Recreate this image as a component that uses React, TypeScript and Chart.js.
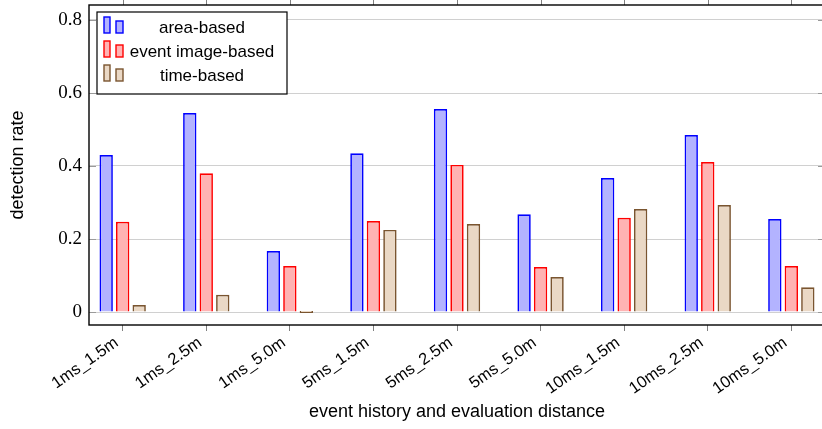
import React, { useEffect, useRef } from "react";
import { Chart, registerables } from "chart.js";

Chart.register(...registerables);

const CATEGORIES = [
  "1ms_1.5m",
  "1ms_2.5m",
  "1ms_5.0m",
  "5ms_1.5m",
  "5ms_2.5m",
  "5ms_5.0m",
  "10ms_1.5m",
  "10ms_2.5m",
  "10ms_5.0m",
];
const SERIES_LABELS = ["area-based", "event image-based", "time-based"];
const AREA_BASED = [0.43, 0.545, 0.167, 0.435, 0.556, 0.268, 0.367, 0.485, 0.255];
const EVENT_IMAGE_BASED = [0.247, 0.38, 0.126, 0.249, 0.403, 0.123, 0.258, 0.411, 0.126];
const TIME_BASED = [0.019, 0.047, 0, 0.225, 0.241, 0.096, 0.282, 0.293, 0.068];
const Y_TICKS = [0, 0.2, 0.4, 0.6, 0.8];
const Y_TICK_LABELS = ["0", "0.2", "0.4", "0.6", "0.8"];
const X_TITLE = "event history and evaluation distance";
const Y_TITLE = "detection rate";

const W = 830;
const H = 429;
const LEFT = 89;
const TOP = 5;
const BOTTOM = 325;
const RIGHT = 825;

const SANS = "'Liberation Sans', Arial, sans-serif";
const SERIF = "'Liberation Serif', 'Times New Roman', serif";

const framePlugin = {
  id: "frame",
  afterDraw(chart: any) {
    const { ctx, chartArea: a, scales } = chart;
    const xs = scales.x;
    const ys = scales.y;
    const line = (x1: number, y1: number, x2: number, y2: number) => {
      ctx.beginPath();
      ctx.moveTo(x1, y1);
      ctx.lineTo(x2, y2);
      ctx.stroke();
    };
    ctx.save();
    // inner y tick marks
    ctx.strokeStyle = "#9a9a9a";
    ctx.lineWidth = 1;
    for (const v of Y_TICKS) {
      const py = Math.round(ys.getPixelForValue(v)) + 0.5;
      line(a.left, py, a.left + 7, py);
      line(a.right - 7, py, a.right, py);
    }
    // top outer tick marks
    ctx.strokeStyle = "#808080";
    CATEGORIES.forEach((_, i) => {
      const px = Math.round(xs.getPixelForValue(i)) + 0.5;
      line(px, a.top, px, a.top - 6);
    });
    // frame
    ctx.strokeStyle = "#000";
    ctx.lineWidth = 1.4;
    ctx.strokeRect(a.left, a.top, a.right - a.left, a.bottom - a.top);

    // legend
    const bx = a.left + 8;
    const by = a.top + 7;
    const bw = 190;
    const bh = 82;
    ctx.fillStyle = "#fff";
    ctx.fillRect(bx, by, bw, bh);
    ctx.lineWidth = 1.2;
    ctx.strokeStyle = "#000";
    ctx.strokeRect(bx, by, bw, bh);
    ctx.font = `17px ${SANS}`;
    ctx.textAlign = "center";
    ctx.textBaseline = "middle";
    chart.data.datasets.forEach((ds: any, i: number) => {
      const cy = by + 16 + i * 24;
      ctx.fillStyle = ds.backgroundColor;
      ctx.strokeStyle = ds.borderColor;
      ctx.lineWidth = 1.4;
      ctx.fillRect(bx + 7, cy - 11, 6, 16);
      ctx.strokeRect(bx + 7, cy - 11, 6, 16);
      ctx.fillRect(bx + 19, cy - 7, 7, 12);
      ctx.strokeRect(bx + 19, cy - 7, 7, 12);
      ctx.fillStyle = "#000";
      ctx.fillText(ds.label, bx + 105, cy);
    });
    ctx.restore();
  },
};

export default function App() {
  const ref = useRef<HTMLCanvasElement | null>(null);

  useEffect(() => {
    if (!ref.current) return;
    const mk = (vals: number[]) => vals.map((v, i) => ({ x: i, y: v }));
    const chart = new Chart(ref.current, {
      type: "bar",
      data: {
        datasets: [
          {
            label: SERIES_LABELS[0],
            data: mk(AREA_BASED),
            backgroundColor: "#b3b3ff",
            borderColor: "#0000ff",
            borderWidth: 1.7,
          },
          {
            label: SERIES_LABELS[1],
            data: mk(EVENT_IMAGE_BASED),
            backgroundColor: "#ffb3b3",
            borderColor: "#ff0000",
            borderWidth: 1.7,
          },
          {
            label: SERIES_LABELS[2],
            data: mk(TIME_BASED),
            backgroundColor: "#ead8c5",
            borderColor: "#7a5530",
            borderWidth: 1.7,
          },
        ],
      } as any,
      options: {
        animation: false,
        responsive: false,
        devicePixelRatio: 1,
        layout: { padding: { top: TOP, right: W - RIGHT, left: 0, bottom: 0 } },
        plugins: { legend: { display: false }, tooltip: { enabled: false } },
        datasets: {
          bar: { categoryPercentage: 0.592, barPercentage: 0.81, minBarLength: 2 },
        },
        scales: {
          x: {
            type: "linear",
            offset: false,
            min: -0.403,
            max: 8.403,
            afterBuildTicks: (s: any) => {
              s.ticks = CATEGORIES.map((_, i) => ({ value: i }));
            },
            afterFit: (s: any) => {
              s.height = H - BOTTOM;
              s.paddingLeft = 0;
              s.paddingRight = 0;
            },
            grid: {
              offset: false,
              drawOnChartArea: false,
              drawTicks: true,
              tickLength: 6,
              tickColor: "#808080",
            },
            border: { display: false },
            ticks: {
              autoSkip: false,
              minRotation: 35,
              maxRotation: 35,
              padding: 2,
              labelOffset: -6,
              color: "#000",
              font: { family: SANS, size: 16.5 },
              callback: (v: any) => CATEGORIES[Math.round(Number(v))] ?? "",
            },
            title: {
              display: true,
              text: X_TITLE,
              color: "#000",
              font: { family: SANS, size: 18 },
              padding: { top: 0, bottom: 6 },
            },
          },
          y: {
            min: -13 / 365,
            max: 307 / 365,
            afterBuildTicks: (s: any) => {
              s.ticks = Y_TICKS.map((v) => ({ value: v }));
            },
            afterFit: (s: any) => {
              s.width = LEFT;
              s.paddingTop = 0;
              s.paddingBottom = 0;
            },
            grid: { color: "#d0d0d0", lineWidth: 1, drawTicks: false },
            border: { display: false },
            ticks: {
              padding: 7,
              color: "#000",
              font: { family: SERIF, size: 19 },
              callback: (_v: any, i: number) => Y_TICK_LABELS[i],
            },
            title: {
              display: true,
              text: Y_TITLE,
              color: "#000",
              font: { family: SANS, size: 18 },
              padding: { top: 7, bottom: 0 },
            },
          },
        },
      } as any,
      plugins: [framePlugin],
    });
    return () => chart.destroy();
  }, []);

  return (
    <div style={{ position: "fixed", left: 0, top: 0, width: W, height: H, background: "#fff" }}>
      <canvas ref={ref} width={W} height={H} style={{ width: W, height: H, display: "block" }} />
    </div>
  );
}
